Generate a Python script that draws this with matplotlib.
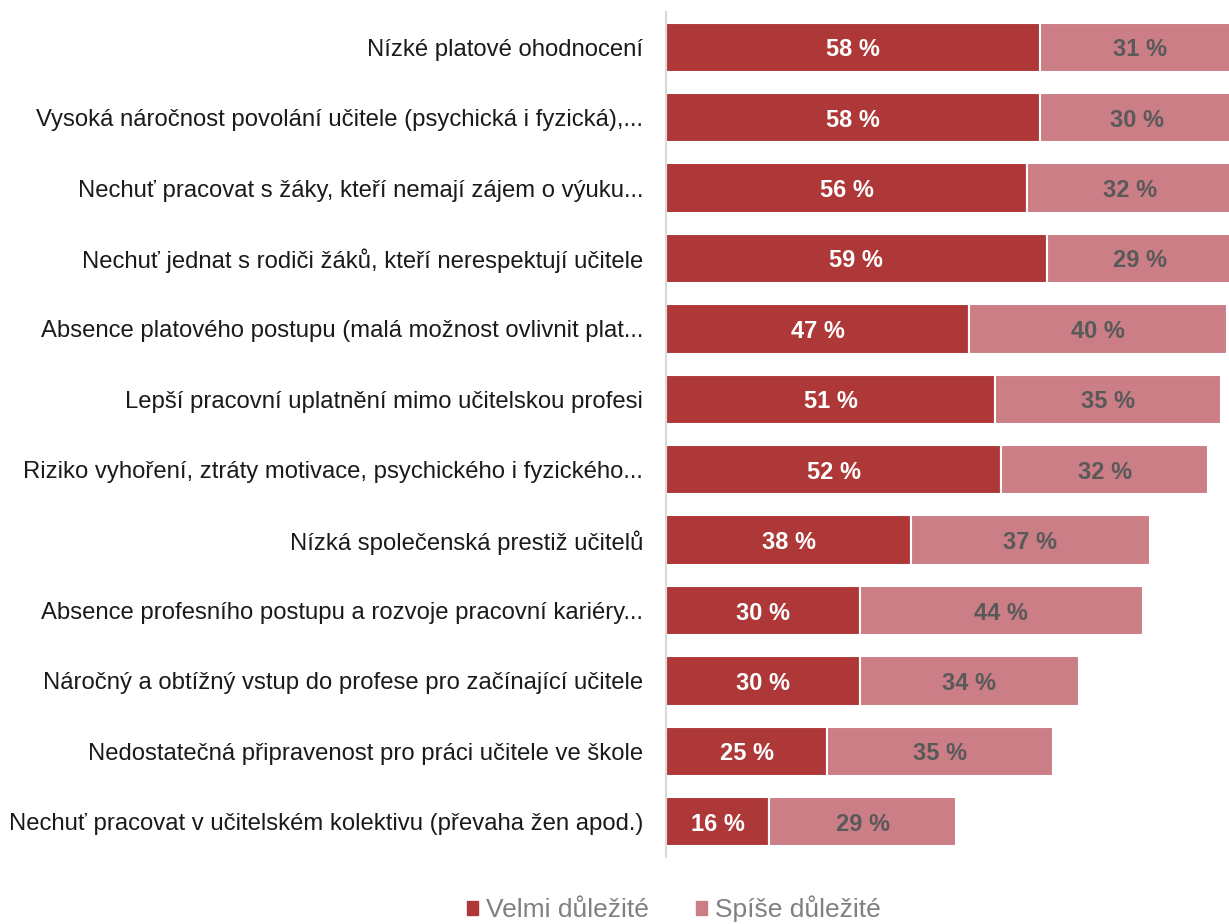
import numpy as np
import matplotlib
matplotlib.use("Agg")
from matplotlib import pyplot as plt
from matplotlib.patches import Patch

plt.rcParams['font.family'] = ['Liberation Sans', 'DejaVu Sans']

categories = [
    "Nízké platové ohodnocení",
    "Vysoká náročnost povolání učitele (psychická i fyzická),...",
    "Nechuť pracovat s žáky, kteří nemají zájem o výuku...",
    "Nechuť jednat s rodiči žáků, kteří nerespektují učitele",
    "Absence platového postupu (malá možnost ovlivnit plat...",
    "Lepší pracovní uplatnění mimo učitelskou profesi",
    "Riziko vyhoření, ztráty motivace, psychického i fyzického...",
    "Nízká společenská prestiž učitelů",
    "Absence profesního postupu a rozvoje pracovní kariéry...",
    "Náročný a obtížný vstup do profese pro začínající učitele",
    "Nedostatečná připravenost pro práci učitele ve škole",
    "Nechuť pracovat v učitelském kolektivu (převaha žen apod.)",
]
velmi = [58, 58, 56, 59, 47, 51, 52, 38, 30, 30, 25, 16]
spise = [31, 30, 32, 29, 40, 35, 32, 37, 44, 34, 35, 29]
series_names = ["Velmi důležité", "Spíše důležité"]

dark = "#AE3838"
light = "#CC7E86"

fig = plt.figure(figsize=(12.29, 9.24), dpi=100)
ax = fig.add_axes([666 / 1229, 1 - 857 / 924, 1 - 666 / 1229, 845 / 924])

y = np.arange(len(categories))
h = 0.7
ax.barh(y, velmi, height=h, color=dark, edgecolor="white", linewidth=1.5)
ax.barh(y, spise, left=velmi, height=h, color=light, edgecolor="white", linewidth=1.5)

for i in range(len(categories)):
    ax.text(velmi[i] / 2, y[i], f"{velmi[i]} %", ha="center", va="center_baseline",
            color="white", fontsize=17, fontweight="bold")
    ax.text(velmi[i] + spise[i] / 2, y[i], f"{spise[i]} %", ha="center", va="center_baseline",
            color="#595959", fontsize=17, fontweight="bold")

ax.set_xlim(0, 563 / 6.45)
ax.set_ylim(len(categories) - 0.5, -0.5)
ax.set_yticks(y)
ax.set_yticklabels(categories, fontsize=17.2, color="#1a1a1a")
ax.tick_params(axis="y", length=0, pad=16.5)
ax.set_xticks([])
for s in ["top", "right", "bottom"]:
    ax.spines[s].set_visible(False)
ax.spines["left"].set_color("#D9D9D9")
ax.spines["left"].set_linewidth(1.5)

handles = [Patch(color=dark), Patch(color=light)]
leg = fig.legend(handles, series_names, loc="center", bbox_to_anchor=(674 / 1229, 1 - 909 / 924),
                 ncol=2, frameon=False, fontsize=19, handlelength=0.4, handleheight=0.4,
                 handletextpad=0.3, columnspacing=1.8, borderpad=0.1)
for t in leg.get_texts():
    t.set_color("#808080")

fig.savefig("out.png", dpi=100)
